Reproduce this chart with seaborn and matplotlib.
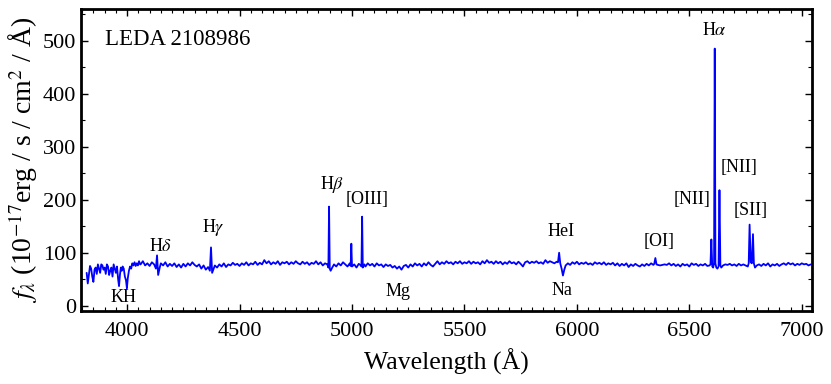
import numpy as np
import seaborn as sns
import matplotlib.pyplot as plt
from matplotlib.ticker import MultipleLocator

# spectrum (wavelength in A, flux in 1e-17 erg/s/cm2/A)
wave = [
    3820, 3825, 3830, 3835, 3840, 3845, 3850, 3855, 3860, 3865,
    3870, 3875, 3880, 3885, 3890, 3895, 3900, 3905, 3910, 3915,
    3920, 3925, 3930, 3935, 3940, 3945, 3950, 3955, 3960, 3964,
    3968, 3972, 3976, 3980, 3985, 3990, 3995, 3999, 4003, 4008,
    4013, 4018, 4023, 4028, 4033, 4038, 4043, 4048, 4053, 4058,
    4060, 4070, 4080, 4090, 4100,
    4110, 4120, 4128, 4133, 4138, 4145, 4150, 4160, 4170, 4180,
    4190, 4200, 4210, 4220, 4230, 4240, 4250, 4260, 4270, 4280,
    4290, 4300, 4310, 4320, 4330, 4340, 4350, 4360, 4368, 4373,
    4378, 4385, 4390, 4400, 4410, 4420, 4430, 4440, 4450, 4460,
    4470, 4480, 4490, 4500, 4510, 4520, 4530, 4540, 4550, 4560,
    4570, 4580, 4590, 4600, 4610, 4620, 4630, 4640, 4650, 4660,
    4670, 4680, 4690, 4700, 4710, 4720, 4730, 4740, 4750, 4760,
    4770, 4780, 4790, 4800, 4810, 4820, 4830, 4840, 4850, 4860,
    4870, 4880, 4890, 4895, 4898, 4901, 4905, 4912, 4920, 4930,
    4940, 4950, 4960, 4970, 4980, 4990, 4994, 4997, 5000, 5010,
    5020, 5030, 5040, 5042, 5045, 5048, 5055, 5060, 5070, 5080,
    5090, 5100, 5110, 5120, 5130, 5140, 5150, 5160, 5170, 5180,
    5190, 5200, 5210, 5220, 5230, 5240, 5250, 5260, 5270, 5280,
    5290, 5300, 5310, 5320, 5330, 5340, 5350, 5360, 5370, 5380,
    5390, 5400, 5410, 5420, 5430, 5440, 5450, 5460, 5470, 5480,
    5490, 5500, 5510, 5520, 5530, 5540, 5550, 5560, 5570, 5580,
    5590, 5600, 5610, 5620, 5630, 5640, 5650, 5660, 5670, 5680,
    5690, 5700, 5710, 5720, 5730, 5740, 5750, 5760, 5770, 5780,
    5790, 5800, 5810, 5820, 5830, 5840, 5850, 5860, 5870, 5880,
    5890, 5900, 5910, 5916, 5921, 5926, 5932, 5938, 5944, 5950,
    5960, 5970, 5980, 5990, 6000, 6010, 6020, 6030, 6040, 6050,
    6060, 6070, 6080, 6090, 6100, 6110, 6120, 6130, 6140, 6150,
    6160, 6170, 6180, 6190, 6200, 6210, 6220, 6230, 6240, 6250,
    6260, 6270, 6280, 6290, 6300, 6310, 6320, 6330, 6340, 6344,
    6349, 6354, 6360, 6370, 6380, 6390, 6400, 6410, 6420, 6430,
    6440, 6450, 6460, 6470, 6480, 6490, 6500, 6510, 6520, 6530,
    6540, 6550, 6560, 6570, 6580, 6590, 6594, 6598, 6602, 6606,
    6610, 6613, 6616, 6620, 6625, 6630, 6634, 6638, 6642, 6650,
    6660, 6670, 6680, 6690, 6700, 6710, 6720, 6730, 6740, 6750,
    6760, 6764, 6768, 6773, 6778, 6783, 6787, 6792, 6800, 6810,
    6820, 6830, 6840, 6850, 6860, 6870, 6880, 6890, 6900, 6910,
    6920, 6930, 6940, 6950, 6960, 6970, 6980, 6990, 7000, 7010,
    7020, 7030, 7040,
]
flux = [
    62, 42, 58, 75, 70, 55, 45, 68, 72, 60,
    78, 70, 62, 78, 76, 68, 72, 60, 78, 74,
    58, 66, 72, 55, 78, 70, 62, 74, 50, 37,
    58, 72, 66, 74, 70, 55, 48, 33, 52, 66,
    74, 70, 80, 76, 82, 75, 80, 76, 84, 78,
    78, 84, 76, 80, 75,
    82, 78, 70, 95, 58, 72, 80, 76, 82, 74,
    79, 75, 80, 73, 78, 72, 79, 74, 80, 76,
    82, 77, 74, 78, 70, 76, 68, 73, 66, 110,
    62, 70, 76, 72, 78, 74, 80, 73, 78, 76,
    81, 77, 79, 75, 80, 77, 82, 76, 80, 78,
    83, 77, 81, 78, 86, 80, 84, 78, 82, 79,
    84, 77, 82, 80, 83, 78, 82, 79, 84, 80,
    78, 83, 79, 82, 77, 81, 79, 84, 78, 82,
    76, 80, 78, 72, 187, 70, 66, 72, 78, 74,
    80, 76, 82, 78, 74, 80, 75, 117, 74, 78,
    72, 79, 76, 74, 168, 72, 78, 74, 80, 76,
    79, 74, 80, 76, 78, 73, 78, 75, 77, 72,
    75, 70, 74, 68, 75, 77, 72, 78, 74, 80,
    76, 79, 74, 80, 76, 82, 77, 74, 79, 84,
    78, 82, 79, 84, 80, 82, 78, 83, 80, 84,
    79, 82, 80, 84, 79, 83, 80, 82, 78, 84,
    80, 86, 81, 83, 79, 84, 80, 83, 78, 82,
    79, 84, 80, 82, 78, 83, 79, 74, 82, 84,
    80, 83, 81, 84, 80, 82, 79, 86, 81, 84,
    82, 80, 83, 82, 100, 80, 70, 57, 68, 76,
    80, 77, 82, 79, 83, 78, 81, 79, 82, 78,
    80, 77, 82, 79, 81, 78, 82, 77, 80, 78,
    81, 76, 80, 75, 79, 76, 80, 73, 78, 75,
    79, 76, 74, 78, 75, 79, 76, 80, 77, 79,
    90, 78, 77, 76, 77, 78, 77, 80, 76, 79,
    75, 78, 74, 79, 76, 78, 74, 80, 77, 79,
    75, 78, 76, 79, 75, 76, 78, 125, 74, 72,
    80, 485, 80, 72, 70, 74, 218, 76, 72, 76,
    78, 77, 79, 76, 78, 75, 79, 76, 78, 76,
    74, 80, 153, 82, 80, 135, 80, 72, 76, 78,
    75, 79, 76, 80, 74, 78, 76, 79, 75, 78,
    80, 77, 81, 78, 80, 76, 79, 77, 80, 78,
    79, 76, 78,
]

# line labels and where they sit (data coords)
line_names = ['KH', r'H$\delta$', r'H$\gamma$', r'H$\beta$', '[OIII]', 'Mg',
              'HeI', 'Na', '[OI]', '[NII]', '[NII]', '[SII]', r'H$\alpha$']
label_x = [3985, 4150, 4382, 4911, 5067, 5204, 5929, 5933, 6364, 6511, 6722, 6773, 6613]
label_y = [15, 111, 147, 228, 200, 26, 140, 28, 121, 200, 260, 179, 519]

sns.set_style('ticks')
plt.rcParams['font.family'] = ['Liberation Serif', 'DejaVu Serif']
plt.rcParams['mathtext.fontset'] = 'stix'
plt.rcParams['text.color'] = 'black'
plt.rcParams['axes.labelcolor'] = 'black'
plt.rcParams['xtick.color'] = 'black'
plt.rcParams['ytick.color'] = 'black'
plt.rcParams['axes.edgecolor'] = 'black'

fig, ax = plt.subplots(figsize=(8.31, 3.84), dpi=100)
fig.subplots_adjust(left=0.0975, right=0.977, bottom=0.19, top=0.977)

sns.lineplot(x=wave, y=flux, ax=ax, color='#0000ff', linewidth=1.3, estimator=None)

for name, lx, ly in zip(line_names, label_x, label_y):
    ax.text(lx, ly, name, ha='center', va='center', fontsize=13)

ax.text(0.033, 0.9, 'LEDA 2108986', transform=ax.transAxes, fontsize=16.5,
        ha='left', va='center')

ax.set_xlim(3795, 7045)
ax.set_ylim(-10, 560)
ax.xaxis.set_major_locator(MultipleLocator(500))
ax.xaxis.set_minor_locator(MultipleLocator(50))
ax.yaxis.set_major_locator(MultipleLocator(100))
ax.yaxis.set_minor_locator(MultipleLocator(50))
ax.tick_params(which='both', direction='in', top=True, right=True, labelsize=16)
ax.tick_params(axis='x', pad=8)
ax.tick_params(which='major', length=5, width=1)
ax.tick_params(which='minor', length=3, width=0.8)
for s in ax.spines.values():
    s.set_linewidth(2)

ax.set_xlabel('Wavelength (Å)', fontsize=18.5, labelpad=5)
ax.set_ylabel(r'$f_\lambda$ (10$^{-17}$erg / s / cm$^2$ / Å)', fontsize=20, labelpad=2)

fig.savefig('out.png', dpi=100)
